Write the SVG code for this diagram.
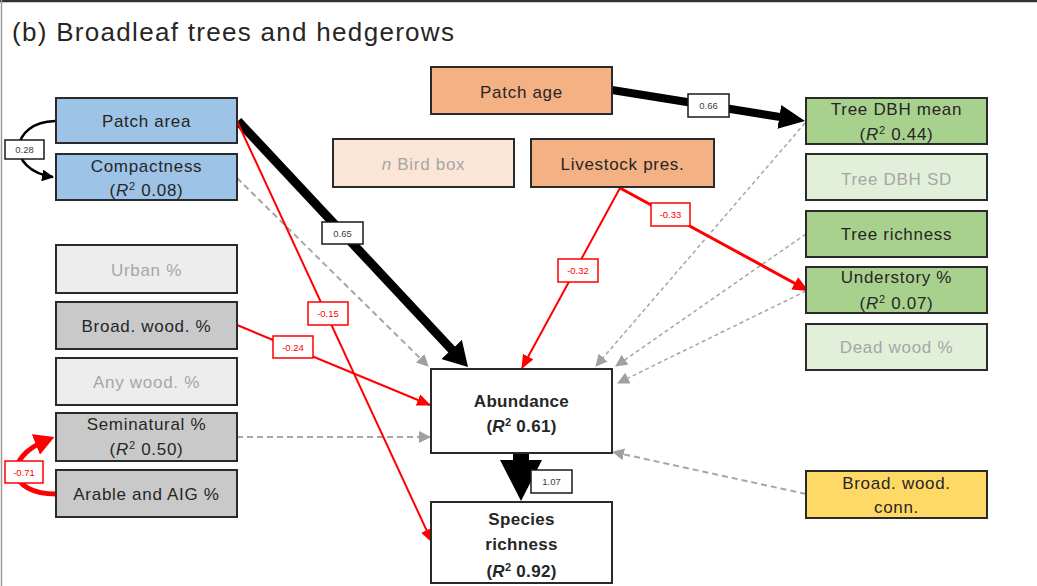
<svg xmlns="http://www.w3.org/2000/svg" width="1037" height="586" viewBox="0 0 1037 586">
<style>
text{font-family:"Liberation Sans",Arial,sans-serif}
.n{stroke:#2a2a2a;stroke-width:2}
.t{font-size:17px;fill:#262626;text-anchor:middle;letter-spacing:0.7px}
.tl{font-size:17px;fill:#a6a6a6;text-anchor:middle;letter-spacing:0.7px}
.tb{font-size:17px;fill:#262626;text-anchor:middle;font-weight:bold;letter-spacing:0.3px}
.blue{fill:#9dc3e6}.org{fill:#f4b183}.lorg{fill:#fbe5d6}.grn{fill:#a9d18e}.lgrn{fill:#e2f0d9}
.yel{fill:#ffd966}.gry{fill:#c9c9c9}.lgry{fill:#ededed}.wht{fill:#ffffff}
.lb{fill:#fff;stroke:#1a1a1a;stroke-width:1.5}
.lr{fill:#fff;stroke:#ff0000;stroke-width:1.5}
.lt{font-size:9.5px;fill:#404040;text-anchor:middle}
.ltr{font-size:9.5px;fill:#ff0000;text-anchor:middle}
.red{fill:none;stroke:#ff0000}
.blk{fill:none;stroke:#000}
.dash{fill:none;stroke:#a6a6a6;stroke-width:2;stroke-dasharray:6 4}
.sup{font-size:11px}
</style>
<defs>
<marker id="aBs" viewBox="0 0 12 12" refX="11" refY="6" markerWidth="12" markerHeight="12" markerUnits="userSpaceOnUse" orient="auto"><path d="M0,0 L12,6 L0,12 z" fill="#000"/></marker>
<marker id="aBL" viewBox="0 0 24 28" refX="14" refY="14" markerWidth="24" markerHeight="28" markerUnits="userSpaceOnUse" orient="auto"><path d="M0,0 L24,14 L0,28 z" fill="#000"/></marker>
<marker id="aB66" viewBox="0 0 26 24" refX="16" refY="12" markerWidth="26" markerHeight="24" markerUnits="userSpaceOnUse" orient="auto"><path d="M0,0 L26,12 L0,24 z" fill="#000"/></marker>
<marker id="aR" viewBox="0 0 14 12" refX="13" refY="6" markerWidth="14" markerHeight="12" markerUnits="userSpaceOnUse" orient="auto"><path d="M0,0 L14,6 L0,12 z" fill="#ff0000"/></marker>
<marker id="aR3" viewBox="0 0 16 14" refX="14" refY="7" markerWidth="16" markerHeight="14" markerUnits="userSpaceOnUse" orient="auto"><path d="M0,0 L16,7 L0,14 z" fill="#ff0000"/></marker>
<marker id="aRT" viewBox="0 0 20 22" refX="12" refY="11" markerWidth="20" markerHeight="22" markerUnits="userSpaceOnUse" orient="auto"><path d="M0,0 L20,11 L0,22 z" fill="#ff0000"/></marker>
<marker id="aG" viewBox="0 0 12 12" refX="11" refY="6" markerWidth="12" markerHeight="12" markerUnits="userSpaceOnUse" orient="auto"><path d="M0,0 L12,6 L0,12 z" fill="#a0a0a0"/></marker>
</defs>
<rect x="0" y="0" width="1037" height="586" fill="#ffffff"/>
<line x1="0" y1="1" x2="1037" y2="1" stroke="#333" stroke-width="2.5"/>
<line x1="1.5" y1="0" x2="1.5" y2="586" stroke="#9a9a9a" stroke-width="1.5"/>
<text x="12" y="41" font-size="26" fill="#262626" letter-spacing="1.3">(b) Broadleaf trees and hedgerows</text>

<g id="connectors">
<path class="dash" d="M237,178 L428,366" marker-end="url(#aG)"/>
<path class="dash" d="M237,437 L430,437" marker-end="url(#aG)"/>
<path class="dash" style="stroke-width:1.5;stroke-dasharray:4 3" d="M805,123 L596,366" marker-end="url(#aG)"/>
<path class="dash" style="stroke-width:1.5;stroke-dasharray:4 3" d="M806,234 L616,366" marker-end="url(#aG)"/>
<path class="dash" style="stroke-width:1.5;stroke-dasharray:4 3" d="M806,291 L618,383" marker-end="url(#aG)"/>
<path class="dash" d="M806,494 L613,452" marker-end="url(#aG)"/>
<path class="blk" stroke-width="2.5" d="M55,121 C10,122 5,170 53,177" marker-end="url(#aBs)"/>
<path class="blk" stroke-width="9" d="M238,121 L461.2,359.7" marker-end="url(#aBL)"/>
<path class="blk" stroke-width="8" d="M612,90 L795.1,119.4" marker-end="url(#aB66)"/>
<path class="red" stroke-width="2" d="M237,121 L432,542" marker-end="url(#aR)"/>
<path class="red" stroke-width="2" d="M237,325 L430,405" marker-end="url(#aR)"/>
<path class="red" stroke-width="2" d="M620,188 L522,368" marker-end="url(#aR)"/>
<path class="red" stroke-width="3" d="M620,188 L807,290" marker-end="url(#aR3)"/>
<path class="red" stroke-width="5" d="M56,494 C8,494 2,458 47,440" marker-end="url(#aRT)"/>
<path d="M513,453 L529,453 L529,460 L542,460 L521,501 L500,460 L513,460 Z" fill="#000"/>
<rect class="lb" x="5" y="140" width="39" height="19"/><text class="lt" x="24.5" y="153">0.28</text>
<rect class="lb" x="322" y="222" width="41" height="22"/><text class="lt" x="342.5" y="236.5">0.65</text>
<rect class="lb" x="688" y="94" width="41" height="23"/><text class="lt" x="708.5" y="109">0.66</text>
<rect class="lb" x="531" y="470" width="41" height="23"/><text class="lt" x="551.5" y="485">1.07</text>
<rect class="lr" x="308" y="302" width="40" height="23"/><text class="ltr" x="328" y="317">-0.15</text>
<rect class="lr" x="273" y="336" width="40" height="22"/><text class="ltr" x="293" y="350.5">-0.24</text>
<rect class="lr" x="558" y="259" width="40" height="23"/><text class="ltr" x="578" y="274">-0.32</text>
<rect class="lr" x="651" y="203" width="39" height="23"/><text class="ltr" x="670.5" y="218">-0.33</text>
<rect class="lr" x="5" y="461" width="38" height="22"/><text class="ltr" x="24" y="475.5">-0.71</text>
</g>

<g id="patch-area"><rect class="n blue" x="56" y="98" width="181" height="45"/><text class="t" x="146.5" y="127">Patch area</text></g>
<g id="compactness"><rect class="n blue" x="56" y="154" width="181" height="46"/><text class="t" x="146.5" y="172">Compactness</text><text class="t" x="146.5" y="196">(<tspan font-style="italic">R</tspan><tspan class="sup" dy="-6">2</tspan><tspan dy="6"> 0.08)</tspan></text></g>
<g id="patch-age"><rect class="n org" x="431" y="67" width="181" height="47"/><text class="t" x="521.5" y="98">Patch age</text></g>
<g id="bird-box"><rect class="n lorg" x="333" y="139" width="181" height="48"/><text class="tl" x="423.5" y="170"><tspan font-style="italic">n</tspan> Bird box</text></g>
<g id="livestock"><rect class="n org" x="531" y="139" width="183" height="48"/><text class="t" x="622.5" y="170">Livestock pres.</text></g>
<g id="tree-dbh-mean"><rect class="n grn" x="806" y="98" width="181" height="46"/><text class="t" x="896.5" y="115">Tree DBH mean</text><text class="t" x="896.5" y="140">(<tspan font-style="italic">R</tspan><tspan class="sup" dy="-6">2</tspan><tspan dy="6"> 0.44)</tspan></text></g>
<g id="tree-dbh-sd"><rect class="n lgrn" x="806" y="154" width="181" height="46"/><text class="tl" x="896.5" y="185">Tree DBH SD</text></g>
<g id="tree-richness"><rect class="n grn" x="806" y="211" width="181" height="46"/><text class="t" x="896.5" y="240">Tree richness</text></g>
<g id="understory"><rect class="n grn" x="806" y="267" width="181" height="46"/><text class="t" x="896.5" y="283">Understory %</text><text class="t" x="896.5" y="309">(<tspan font-style="italic">R</tspan><tspan class="sup" dy="-6">2</tspan><tspan dy="6"> 0.07)</tspan></text></g>
<g id="dead-wood"><rect class="n lgrn" x="806" y="324" width="181" height="46"/><text class="tl" x="896.5" y="353">Dead wood %</text></g>
<g id="broad-wood-conn"><rect class="n yel" x="806" y="471" width="181" height="47"/><text class="t" x="896.5" y="489">Broad. wood.</text><text class="t" x="896.5" y="513">conn.</text></g>
<g id="urban"><rect class="n lgry" x="56" y="245" width="181" height="48"/><text class="tl" x="146.5" y="276">Urban %</text></g>
<g id="broad-wood"><rect class="n gry" x="56" y="302" width="181" height="47"/><text class="t" x="146.5" y="332">Broad. wood. %</text></g>
<g id="any-wood"><rect class="n lgry" x="56" y="358" width="181" height="47"/><text class="tl" x="146.5" y="388">Any wood. %</text></g>
<g id="seminatural"><rect class="n gry" x="56" y="413" width="181" height="48"/><text class="t" x="146.5" y="430">Seminatural %</text><text class="t" x="146.5" y="455">(<tspan font-style="italic">R</tspan><tspan class="sup" dy="-6">2</tspan><tspan dy="6"> 0.50)</tspan></text></g>
<g id="arable"><rect class="n gry" x="56" y="470" width="181" height="47"/><text class="t" x="146.5" y="500">Arable and AIG %</text></g>
<g id="abundance"><rect class="n wht" x="431" y="369" width="181" height="84"/><text class="tb" x="521.5" y="407">Abundance</text><text class="tb" x="521.5" y="432">(<tspan font-style="italic">R</tspan><tspan class="sup" dy="-6">2</tspan><tspan dy="6"> 0.61)</tspan></text></g>
<g id="species-richness"><rect class="n wht" x="431" y="502" width="181" height="81"/><text class="tb" x="521.5" y="525">Species</text><text class="tb" x="521.5" y="550">richness</text><text class="tb" x="521.5" y="577">(<tspan font-style="italic">R</tspan><tspan class="sup" dy="-6">2</tspan><tspan dy="6"> 0.92)</tspan></text></g>
</svg>
